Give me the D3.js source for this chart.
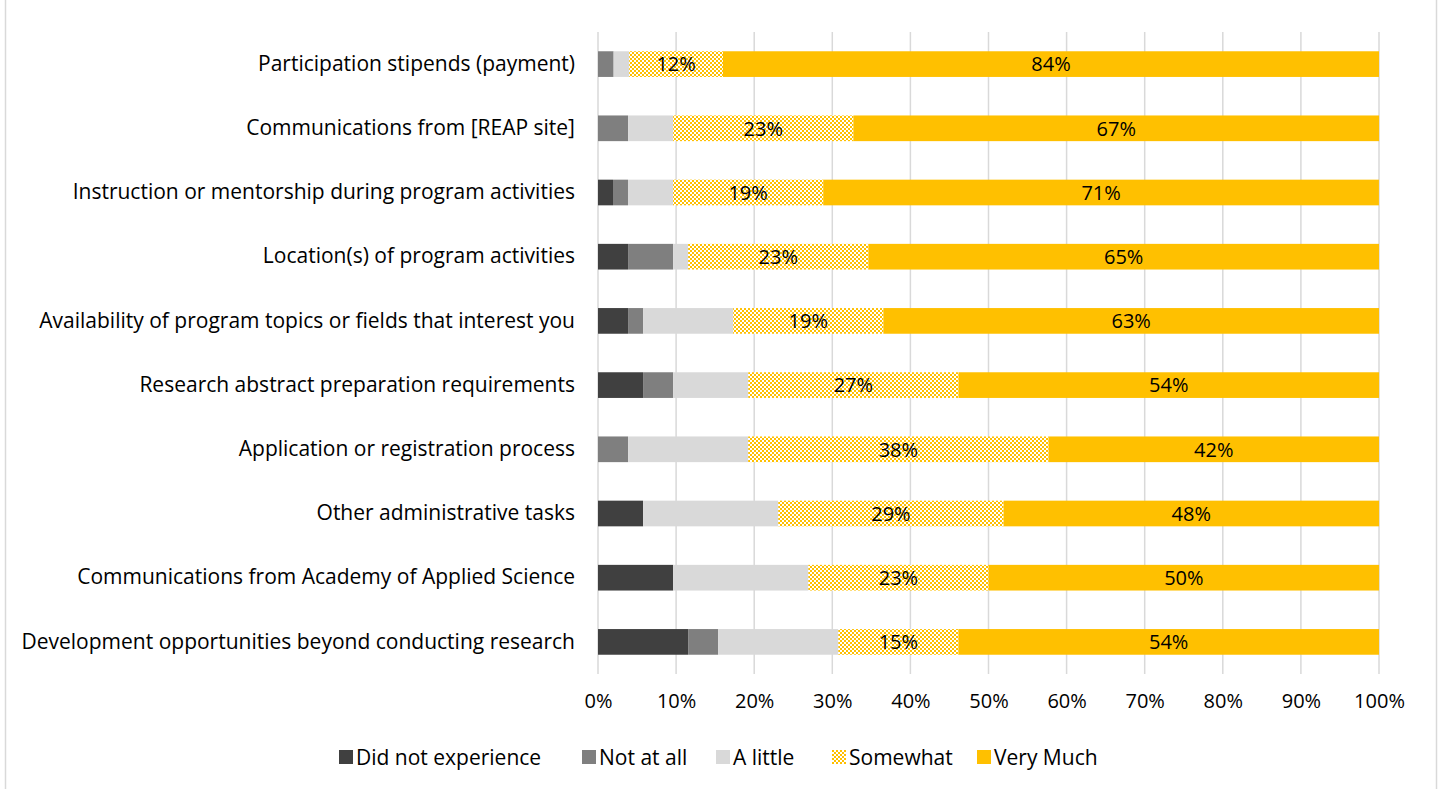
<!DOCTYPE html>
<html>
<head>
<meta charset="utf-8">
<script src="https://cdn.jsdelivr.net/npm/d3@7"></script>
<style>
  body { margin: 0; background: #fff; }
  svg text { font-family: "Open Sans", "Noto Sans", sans-serif; fill: #000; }
</style>
</head>
<body>
<div id="chart"></div>
<script>
w = 1442;
h = 789;

// categories, top to bottom
categories = [
  "Participation stipends (payment)",
  "Communications from [REAP site]",
  "Instruction or mentorship during program activities",
  "Location(s) of program activities",
  "Availability of program topics or fields that interest you",
  "Research abstract preparation requirements",
  "Application or registration process",
  "Other administrative tasks",
  "Communications from Academy of Applied Science",
  "Development opportunities beyond conducting research"
];

seriesNames = ["Did not experience", "Not at all", "A little", "Somewhat", "Very Much"];

// percent of respondents
didNotExperience = [0, 0, 1.92, 3.85, 3.85, 5.77, 0, 5.77, 9.62, 11.54];
notAtAll         = [2, 3.85, 1.92, 5.77, 1.92, 3.85, 3.85, 0, 0, 3.85];
aLittle          = [2, 5.77, 5.77, 1.92, 11.54, 9.62, 15.38, 17.31, 17.31, 15.38];
somewhat         = [12, 23.08, 19.23, 23.08, 19.23, 26.92, 38.46, 28.85, 23.08, 15.38];
veryMuch         = [84, 67.31, 71.15, 65.38, 63.46, 53.85, 42.31, 48.08, 50, 53.85];

xTicks = [0, 10, 20, 30, 40, 50, 60, 70, 80, 90, 100];

var seriesValues = [didNotExperience, notAtAll, aLittle, somewhat, veryMuch];
var colors = ["#404040", "#7f7f7f", "#d9d9d9", "url(#checker)", "#ffc000"];
var showLabel = [false, false, false, true, true];

var table = categories.map(function(c, i) {
  var row = { category: c };
  seriesNames.forEach(function(s, j) { row[s] = seriesValues[j][i]; });
  return row;
});

var stacked = d3.stack().keys(seriesNames)(table);

var svg = d3.select("#chart").append("svg")
  .attr("width", w)
  .attr("height", h);

// checker pattern for "Somewhat"
var pat = svg.append("defs").append("pattern")
  .attr("id", "checker")
  .attr("patternUnits", "userSpaceOnUse")
  .attr("width", 4)
  .attr("height", 4);
pat.append("rect").attr("width", 4).attr("height", 4).attr("fill", "#fff");
pat.append("rect").attr("width", 2).attr("height", 2).attr("fill", "#ffc000");
pat.append("rect").attr("x", 2).attr("y", 2).attr("width", 2).attr("height", 2).attr("fill", "#ffc000");

// chart frame
svg.append("rect")
  .attr("x", 5.5).attr("y", -10)
  .attr("width", 1431).attr("height", h + 20)
  .attr("fill", "none")
  .attr("stroke", "#d9d9d9")
  .attr("stroke-width", 1.5);

xScale = d3.scaleLinear().domain([0, 100]).range([598, 1379]);
yScale = d3.scaleBand().domain(categories).range([32, 674]).paddingInner(0.6).paddingOuter(0.3);

// gridlines
svg.append("g")
  .selectAll("line")
  .data(xTicks)
  .enter().append("line")
  .attr("x1", function(d) { return xScale(d); })
  .attr("x2", function(d) { return xScale(d); })
  .attr("y1", 32)
  .attr("y2", 674)
  .attr("stroke", "#d9d9d9")
  .attr("stroke-width", 1.5);

// x axis
xAxis = d3.axisBottom(xScale)
  .tickValues(xTicks)
  .tickSize(0)
  .tickPadding(0)
  .tickFormat(function(d) { return d + "%"; });
xAxisG = svg.append("g")
  .attr("transform", "translate(0,694)")
  .call(xAxis);
xAxisG.select(".domain").remove();
xAxisG.selectAll("text").attr("font-size", 20).attr("dy", "0.71em").style("font-family", "'Open Sans', sans-serif");

// y axis
yAxis = d3.axisLeft(yScale).tickSize(0).tickPadding(0);
yAxisG = svg.append("g")
  .attr("transform", "translate(575,0)")
  .call(yAxis);
yAxisG.select(".domain").remove();
yAxisG.selectAll("text").attr("font-size", 21).style("font-family", "'Open Sans', sans-serif");

// bars
var layers = svg.selectAll("g.layer")
  .data(stacked)
  .enter().append("g")
  .attr("class", "layer")
  .attr("fill", function(d, i) { return colors[i]; });

layers.selectAll("rect")
  .data(function(d) { return d; })
  .enter().append("rect")
  .attr("x", function(d) { return xScale(d[0]); })
  .attr("y", function(d) { return yScale(d.data.category); })
  .attr("width", function(d) { return xScale(d[1]) - xScale(d[0]); })
  .attr("height", yScale.bandwidth());

// data labels
layers.each(function(layer, i) {
  if (!showLabel[i]) return;
  d3.select(this).selectAll("text")
    .data(layer)
    .enter().append("text")
    .attr("x", function(d) { return (xScale(d[0]) + xScale(d[1])) / 2; })
    .attr("y", function(d) { return yScale(d.data.category) + yScale.bandwidth() / 2; })
    .attr("dy", "0.36em")
    .attr("text-anchor", "middle")
    .attr("font-size", 20)
    .style("fill", "#000")
    .text(function(d) { return Math.round(d[1] - d[0]) + "%"; });
});

// legend
var legendX = [339, 582, 716, 832, 977];
var legend = svg.append("g").attr("class", "legend");
seriesNames.forEach(function(s, i) {
  var g = legend.append("g").attr("transform", "translate(" + legendX[i] + ",750)");
  g.append("rect").attr("width", 14).attr("height", 14).attr("fill", colors[i]);
  g.append("text")
    .attr("x", 17).attr("y", 7).attr("dy", "0.36em")
    .attr("font-size", 21)
    .text(s);
});
</script>
</body>
</html>
